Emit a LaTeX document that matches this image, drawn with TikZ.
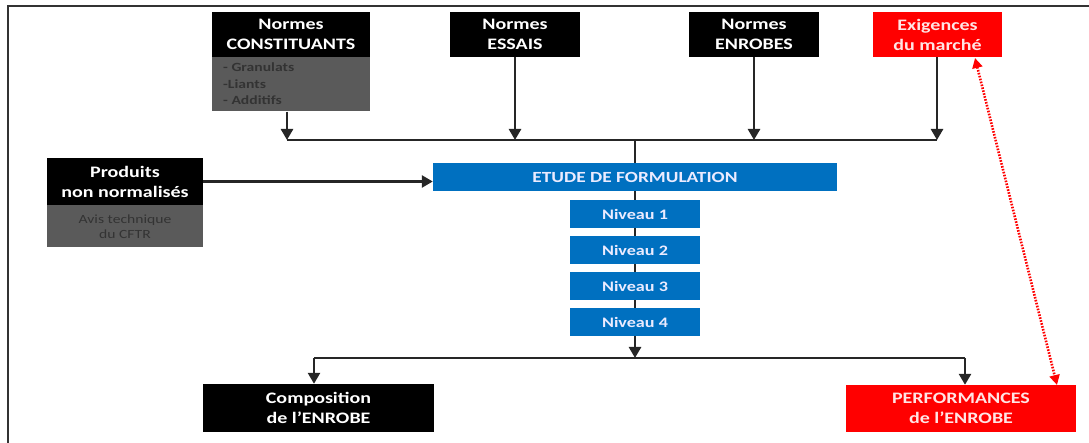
\documentclass[tikz,border=0pt]{standalone}
\usepackage{fontspec}
\setmainfont{Carlito}[FakeStretch=1.25]
\usetikzlibrary{arrows.meta}
\definecolor{boxgrey}{HTML}{5A5A5A}
\definecolor{boxblue}{HTML}{0070C0}
\definecolor{boxred}{HTML}{FF0000}
\definecolor{linegrey}{HTML}{262626}
\tikzset{
  base/.style={rectangle, inner sep=0pt, align=center, font=\bfseries\fontsize{16}{20}\selectfont, text=white},
  blackbox/.style={base, fill=black},
  greybox/.style={base, fill=boxgrey, text=black!80, font=\bfseries\fontsize{12.5}{16.5}\selectfont},
  bluebox/.style={base, fill=boxblue, font=\bfseries\fontsize{14.5}{16}\selectfont, text=white!92!blue},
  redbox/.style={base, fill=boxred, text=white!90!red},
  conn/.style={draw=linegrey, line width=2.6pt},
  arr/.style={conn, -{Triangle[length=11pt, width=12pt]}},
  redarr/.style={draw=boxred, line width=2.6pt, dash pattern=on 1.6pt off 1.4pt, {Triangle[length=10pt,width=10pt]}-{Triangle[length=10pt,width=10pt]}}
}
\begin{document}
\begin{tikzpicture}[x=1pt,y=-1pt]
\useasboundingbox (0,0) rectangle (1089,443);
% frame
\draw[line width=1.5pt, black!80] (8,443) -- (8,6) -- (1089,6);
% top boxes
\node[blackbox, minimum width=158pt, minimum height=45pt] (nc) at (291,34.5) {Normes\\CONSTITUANTS};
\node[greybox, minimum width=158pt, minimum height=54pt, anchor=north] (ncg) at (nc.south) {};
\node[greybox, align=left, anchor=west] (ncl) at (223,84) {- Granulats\\-Liants\\- Additifs};
\node[blackbox, minimum width=130pt, minimum height=45pt] (ne) at (515,34.5) {Normes\\ESSAIS};
\node[blackbox, minimum width=130pt, minimum height=45pt] (nen) at (754,34.5) {Normes\\ENROBES};
\node[redbox, minimum width=129pt, minimum height=45pt] (em) at (937.5,34.5) {Exigences\\du marché};
% left box
\node[blackbox, minimum width=156pt, minimum height=47pt] (pn) at (125,181.5) {Produits\\non normalisés};
\node[greybox, minimum width=156pt, minimum height=42pt, anchor=north, font=\fontsize{12.5}{15}\selectfont] (pg) at (pn.south) {Avis technique\\du CFTR};
% center
\node[bluebox, minimum width=404pt, minimum height=28pt, font=\bfseries\fontsize{15.5}{17}\selectfont] (ef) at (635,177) {ETUDE DE FORMULATION};
\node[bluebox, minimum width=130pt, minimum height=28pt] (n1) at (635,214) {Niveau 1};
\node[bluebox, minimum width=130pt, minimum height=28pt] (n2) at (635,250) {Niveau 2};
\node[bluebox, minimum width=130pt, minimum height=28pt] (n3) at (635,286) {Niveau 3};
\node[bluebox, minimum width=130pt, minimum height=28pt] (n4) at (635,322) {Niveau 4};
% bottom
\node[blackbox, minimum width=231pt, minimum height=48pt] (ce) at (318.5,408) {Composition\\de l’ENROBE};
\node[redbox, minimum width=230pt, minimum height=47pt] (pe) at (961,408.5) {PERFORMANCES\\de l’ENROBE};
% junctions
\coordinate (j1) at (287,140);
\coordinate (j2) at (515,140);
\coordinate (j3) at (754,140);
\coordinate (j4) at (937,140);
\coordinate (jc) at (635,140);
\coordinate (b0) at (635,358);
\coordinate (b1) at (314,358);
\coordinate (b2) at (965,358);
\coordinate (r1) at (975,58);
\coordinate (r2) at (1057,385);
% connectors
\draw[conn] (j1) -- (j4);
\draw[arr] (ncg.south -| j1) -- (j1);
\draw[arr] (ne.south) -- (j2);
\draw[arr] (nen.south) -- (j3);
\draw[arr] (em.south -| j4) -- (j4);
\draw[conn, line width=2pt] (jc) -- (ef.north);
\draw[conn, line width=2pt] (ef.south) -- (n1.north);
\draw[conn, line width=2pt] (n1.south) -- (n2.north);
\draw[conn, line width=2pt] (n2.south) -- (n3.north);
\draw[conn, line width=2pt] (n3.south) -- (n4.north);
\draw[arr] (n4.south) -- (b0);
\draw[arr] (pn.east) -- (pn.east -| ef.west);
\draw[conn] (b1) -- (b2);
\draw[arr] (b1) -- (ce.north -| b1);
\draw[arr] (b2) -- (pe.north -| b2);
\draw[redarr] (r1) -- (r2);
\end{tikzpicture}
\end{document}
